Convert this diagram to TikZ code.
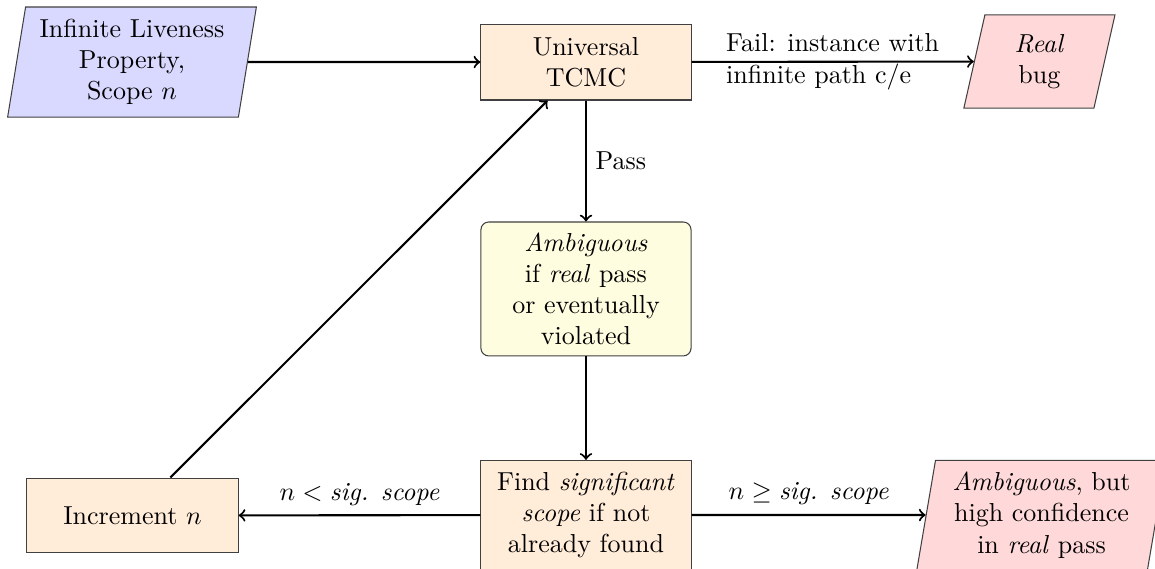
\documentclass[tikz,border=0pt]{standalone}
\usepackage{amsfonts}
\usepackage{amssymb}
\usetikzlibrary{shapes.geometric}

\begin{document}
\begin{tikzpicture}[>=to,
  stepbox/.style={draw=black!75,fill=orange!15,align=center,minimum width=80.8pt},
  iobox/.style={trapezium,trapezium left angle=80,trapezium right angle=100,
    trapezium stretches=true,draw=black!75,align=center,inner sep=1pt},
  flow/.style={thick,->}]

\useasboundingbox (0,0) rectangle (15.609,-7.689);

\node [iobox,fill=blue!15,minimum width=95.8pt,minimum height=42.3pt] (prop) at (1.784,-0.838) {Infinite Liveness\\Property,\\Scope $n$};
\node [stepbox,minimum height=29.2pt] (tcmc) at (7.919,-0.838) {Universal\\TCMC};
\node [iobox,fill=red!15,minimum width=58.1pt,minimum height=35.8pt] (bug) at (14.047,-0.831) {\textit{Real}\\bug};
\node [stepbox,fill=yellow!12,rounded corners=3pt,minimum height=51.5pt] (ambig) at (7.919,-3.905) {\textit{Ambiguous}\\if \textit{real} pass\\or eventually\\violated};
\node [stepbox,minimum height=42pt] (find) at (7.919,-6.960) {Find \textit{significant}\\\textit{scope} if not\\already found};
\node [stepbox,minimum width=81.2pt,minimum height=28.8pt] (incr) at (1.791,-6.966) {Increment $n$};
\node [iobox,fill=red!15,minimum width=96.5pt,minimum height=42pt] (conf) at (14.075,-6.960) {\textit{Ambiguous}, but\\high confidence\\in \textit{real} pass};

\draw [flow] (prop)--(tcmc);
\draw [flow] (tcmc)-- node [align=left] {Fail: instance with\\infinite path c/e} (bug);
\draw [flow] (tcmc)-- node [right] {Pass} (ambig);
\draw [flow] (ambig)--(find);
\draw [flow] (find)-- node [above] {$n < \textit{sig. scope}$} (incr);
\draw [flow] (find)-- node [above] {$n \geq \textit{sig. scope}$} (conf);
\draw [flow] (incr)--(tcmc);
\end{tikzpicture}
\end{document}
